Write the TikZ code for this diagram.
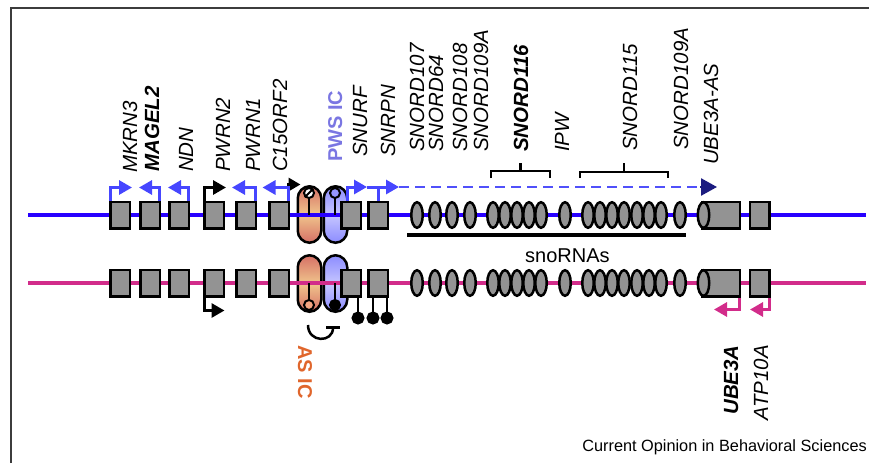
\documentclass[tikz,border=0pt]{standalone}
\usepackage{fontspec}
\setmainfont{Liberation Sans}
\usetikzlibrary{arrows.meta,positioning,shapes.geometric,backgrounds}

\definecolor{chrblue}{RGB}{40,0,255}
\definecolor{chrpink}{RGB}{210,44,138}
\definecolor{tssblue}{RGB}{70,70,255}
\definecolor{dashblue}{RGB}{80,80,250}
\definecolor{navytip}{RGB}{28,28,128}
\definecolor{exongray}{RGB}{147,147,147}
\definecolor{pwscol}{RGB}{122,118,226}
\definecolor{ascol}{RGB}{224,102,44}
\definecolor{framecol}{RGB}{60,60,60}
\definecolor{icred}{RGB}{214,112,102}
\definecolor{ictan}{RGB}{240,196,140}
\definecolor{icblue}{RGB}{140,140,255}
\definecolor{iclight}{RGB}{198,198,255}
\definecolor{ballblue}{RGB}{150,150,255}
\definecolor{ballorange}{RGB}{244,165,130}

\begin{document}
\begin{tikzpicture}[x=1pt,y=-1pt,>={Triangle[length=13pt,width=14pt]},
  exon/.style={draw,line width=2.5pt,fill=exongray,minimum width=19.5pt,minimum height=26.5pt,inner sep=0pt},
  sno/.style={draw,ellipse,line width=2.5pt,fill=exongray,minimum width=11.5pt,minimum height=25.5pt,inner sep=0pt},
  ic/.style={draw,line width=2.5pt,rounded corners=12pt,minimum width=23.5pt,minimum height=56.5pt,inner sep=0pt},
  icorange/.style={ic,top color=icred,bottom color=icred,middle color=ictan},
  icbluefill/.style={ic,top color=icblue,bottom color=icblue,middle color=iclight},
  ball/.style={circle,draw,line width=2pt,minimum size=10pt,inner sep=0pt},
  gene/.style={rotate=90,anchor=base west,inner sep=0pt,font=\fontsize{20.5}{24}\selectfont\itshape},
  genebf/.style={gene,font=\fontsize{20.5}{24}\selectfont\bfseries\itshape},
  tss/.style={->,draw=tssblue,line width=3pt},
  tssk/.style={->,draw=black,line width=3pt},
  tssm/.style={->,draw=chrpink,line width=3pt},
  brk/.style={draw,line width=2.2pt}]
\useasboundingbox (0,0) rectangle (869,463);
\draw[framecol,line width=1.5pt] (11,463) -- (11,8) -- (869,8);

% chromosomes
\coordinate (pat) at (28,215);
\coordinate (patend) at (866,215);
\coordinate (mat) at (28,283);
\coordinate (matend) at (866,283);
\draw[chrblue,line width=4.5pt] (pat) -- (patend);
\draw[chrpink,line width=4.5pt] (mat) -- (matend);

% paternal exons
\node[exon] (mkrn3) at (120,215) {};
\node[exon,right=8pt of mkrn3] (magel2) {};
\node[exon,right=7pt of magel2] (ndn) {};
\node[exon,right=13pt of ndn] (pwrn2) {};
\node[exon,right=10pt of pwrn2] (pwrn1) {};
\node[exon,right=11pt of pwrn1] (cforf) {};
\node[exon] (snurf) at (351,215) {};
\node[exon,right=5pt of snurf] (snrpn) {};
\node[exon,minimum width=37.5pt] (ube3a) at (721,215) {};
\node[sno] (ube3aend) at ([xshift=2.5pt]ube3a.west) {};
\node[exon] (atp10a) at (759.5,215) {};

% maternal exons
\foreach \g in {mkrn3,magel2,ndn,pwrn2,pwrn1,cforf,snurf,snrpn,atp10a}
  \node[exon,below=39pt of \g] (\g m) {};
\node[exon,minimum width=37.5pt,below=39pt of ube3a] (ube3am) {};
\node[sno] (ube3aendm) at ([xshift=2.5pt]ube3am.west) {};

% snoRNAs
\foreach \x [count=\i] in {417,435,452,470,493,505,517,529,541,565,588,600,612,624,637,649,661,680} {
  \node[sno] (sno\i) at (\x,215) {};
  \node[sno] (snom\i) at (\x,283) {};
}

% imprinting centres
\begin{pgfonlayer}{background}
\draw[tssk,>={Triangle[length=12pt,width=13pt]}] ([xshift=-1.5pt]cforf.north east) -- ++(0,-16) -- ++(12,0);
\node[icorange] (asp) at (309.5,214.5) {};
\node[icbluefill] (pwsp) at (335.5,214.5) {};
\node[icorange] (asm) at (309.5,283.5) {};
\node[icbluefill] (pwsm) at (335.5,283.5) {};
\end{pgfonlayer}

% methylation
\node[ball,fill=white] (bap) at (309,193) {};
\draw[line width=2pt] (bap.north east) -- (bap.south west);
\draw[line width=2pt] (bap.south) -- (bap |- pat);
\node[ball,fill=ballblue] (bpp) at (335,193) {};
\draw[line width=2pt] (bpp.south) -- (bpp |- pat);
\node[ball,fill=ballorange] (bam) at (309,305) {};
\draw[line width=2pt] (bam.north) -- (bam |- mat);
\node[ball,fill=black] (bpm) at (335,305) {};
\draw[line width=2pt] (bpm.north) -- (bpm |- mat);
\node[ball,fill=black,minimum size=11pt] (me1) at (358,318) {};
\node[ball,fill=black,minimum size=11pt] (me2) at (373,318) {};
\node[ball,fill=black,minimum size=11pt] (me3) at (387,318) {};
\draw[line width=2pt] (me1.north) -- (me1 |- snurfm.south);
\draw[line width=2pt] (me2.north) -- (me2 |- snrpnm.south);
\draw[line width=2pt] (me3.north) -- (me3 |- snrpnm.south);
\draw[line width=2.5pt,-{Bar[width=14pt,line width=2.5pt]}] (308,325) .. controls (308,343) and (333,343) .. (333,326);

% transcription starts
\draw[tss] ([xshift=1.5pt]mkrn3.north west) -- ++(0,-13) -- ++(21.5,0);
\draw[tss] ([xshift=-1.5pt]magel2.north east) -- ++(0,-13) -- ++(-20.5,0);
\draw[tss] ([xshift=-1.5pt]ndn.north east) -- ++(0,-13) -- ++(-20.5,0);
\draw[tssk] ([xshift=1.5pt]pwrn2.north west) -- ++(0,-13) -- ++(21.5,0);
\draw[tss] ([xshift=-1.5pt]pwrn1.north east) -- ++(0,-13) -- ++(-23.5,0);
\draw[tss] ([xshift=-1.5pt]cforf.north east) -- ++(0,-13) -- ++(-26,0);
\draw[tss] ([xshift=-4pt]snurf.north) -- ++(0,-13.5) -- ++(20,0) coordinate (snurftip);
\draw[tss] (snrpn.north) -- ++(0,-13.5) coordinate (snrpnbend) -- ++(21,0) coordinate (snrpntip);
\draw[tssblue,line width=3pt] (snurftip) -- (snrpnbend);
\draw[dashblue,line width=2.5pt,dash pattern=on 10pt off 6pt] (snrpntip) -- ++(301,0) coordinate (dashend);
\draw[navytip,line width=2.5pt,-{Triangle[length=16pt,width=17pt]}] (dashend) -- ++(17,0);
\draw[tssk] ([xshift=1.5pt]pwrn2m.south west) -- ++(0,13) -- ++(20,0);
\draw[tssm] ([xshift=-1.5pt]ube3am.south east) -- ++(0,12) -- ++(-25.5,0);
\draw[tssm] ([xshift=-1.5pt]atp10am.south east) -- ++(0,12) -- ++(-19,0);

% snoRNA brackets
\draw[brk] (491,178) -- (491,171) -- (550,171) -- (550,178) (520.5,171) -- (520.5,163);
\draw[brk] (580,178) -- (580,172) -- (668,172) -- (668,178) (624,172) -- (624,163);
\draw[line width=3.5pt] (407,235) -- (686,235);
\node[anchor=base west,inner sep=0pt,font=\fontsize{20}{24}\selectfont] (snolbl) at (525,262) {snoRNAs};

% gene names
\node[gene] (lmkrn3) at (137,173) {MKRN3};
\node[genebf] (lmagel2) at (159,172) {MAGEL2};
\node[gene] (lndn) at (193,172) {NDN};
\node[gene] (lpwrn2) at (230,172) {PWRN2};
\node[gene] (lpwrn1) at (260,172) {PWRN1};
\node[gene] (lcforf) at (287,172) {C15ORF2};
\node[rotate=90,anchor=base west,inner sep=0pt,text=pwscol,font=\fontsize{20}{24}\selectfont\bfseries] (lpws) at (342,162) {PWS IC};
\node[gene] (lsnurf) at (367,157) {SNURF};
\node[gene] (lsnrpn) at (395,157) {SNRPN};
\node[gene] (l107) at (424,152) {SNORD107};
\node[gene] (l64) at (443,152) {SNORD64};
\node[gene] (l108) at (467,152) {SNORD108};
\node[gene] (l109a) at (488,152) {SNORD109A};
\node[genebf] (l116) at (528,152) {SNORD116};
\node[gene] (lipw) at (569,152) {IPW};
\node[gene] (l115) at (637,151) {SNORD115};
\node[gene] (l109b) at (688,150) {SNORD109A};
\node[gene] (lube3aas) at (718,165) {UBE3A-AS};
\node[genebf,anchor=base east] (lube3a) at (738,345) {UBE3A};
\node[gene,anchor=base east] (latp) at (768,345) {ATP10A};
\node[rotate=-90,anchor=base west,inner sep=0pt,text=ascol,font=\fontsize{20}{24}\selectfont\bfseries] (las) at (298,345) {AS IC};

\node[anchor=base east,inner sep=0pt,font=\fontsize{16.3}{20}\selectfont] (credit) at (867,451) {Current Opinion in Behavioral Sciences};
\end{tikzpicture}
\end{document}
